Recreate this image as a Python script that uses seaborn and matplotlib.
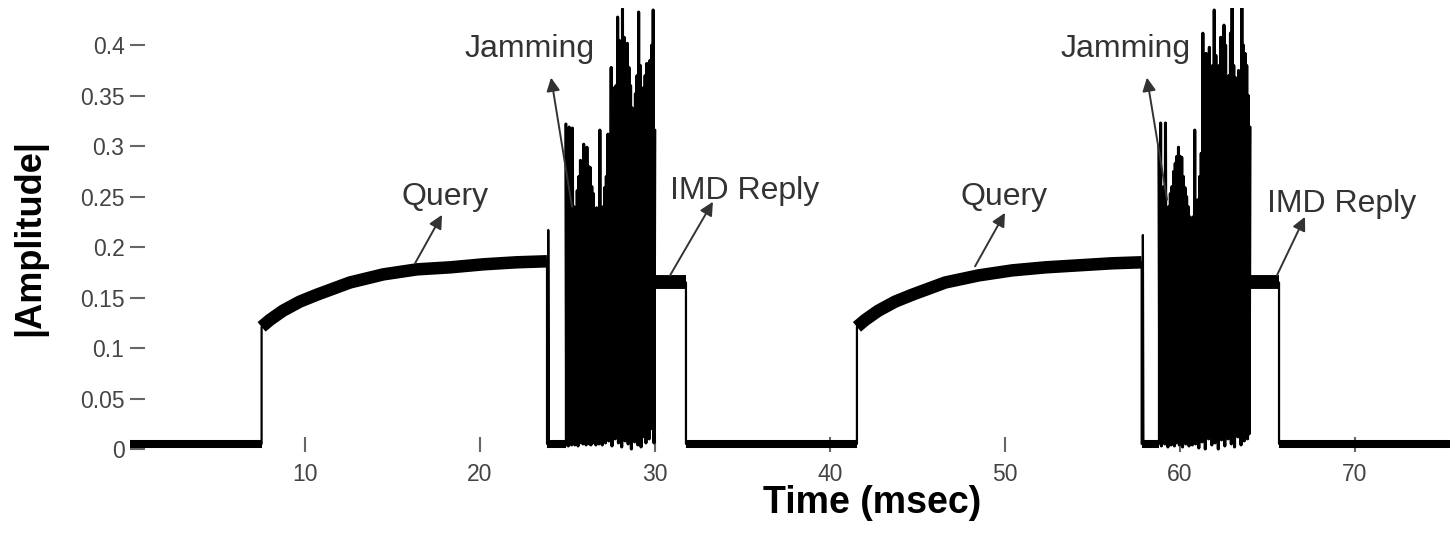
import numpy as np
import pandas as pd
import matplotlib
matplotlib.use('Agg')
import matplotlib.pyplot as plt
import seaborn as sns

sns.set_theme(style='white')
plt.rcParams['font.family'] = ['Liberation Sans', 'DejaVu Sans']

# ====================== 数据 ======================
t_end = 75.43
noise_floor = 0.005          # 底噪
reply_level = 0.165          # IMD Reply 电平

# 底噪区段 (起, 止) ms
base_segs = [(0.0, 7.52), (23.83, 24.91), (31.77, 41.54), (57.81, 58.80), (65.66, 75.43)]

# Query 包络
query1_t = [7.52, 8.00, 8.74, 9.70, 10.70, 12.57, 14.47, 16.40, 18.30, 20.20, 22.10, 23.83]
query1_amp = [0.121, 0.128, 0.137, 0.146, 0.153, 0.165, 0.173, 0.178, 0.180, 0.183, 0.185, 0.186]
query2_t = [41.54, 42.02, 42.76, 43.72, 44.72, 46.59, 48.49, 50.42, 52.32, 54.22, 56.12, 57.81]
query2_amp = [0.121, 0.128, 0.137, 0.146, 0.153, 0.165, 0.172, 0.177, 0.180, 0.182, 0.184, 0.185]

# Query 结束后的尖峰
spike_t = [23.90, 57.88]
spike_amp = [0.217, 0.212]

# IMD Reply 区段
reply_segs = [(29.99, 31.77), (64.00, 65.66)]

# Jamming 采样（峰 / 谷交替）
jam1_start, jam1_end = 24.91, 29.99
jam1_peaks = [0.322, 0.22, 0.319, 0.23, 0.318, 0.24, 0.229, 0.256, 0.27, 0.286,
              0.28, 0.302, 0.29, 0.299, 0.28, 0.279, 0.26, 0.253, 0.235, 0.239,
              0.22, 0.316, 0.226, 0.24, 0.259, 0.27, 0.312, 0.30, 0.378, 0.33,
              0.358, 0.36, 0.428, 0.405, 0.38, 0.436, 0.408, 0.39, 0.402, 0.378,
              0.36, 0.338, 0.33, 0.352, 0.37, 0.433, 0.38, 0.35, 0.358, 0.37,
              0.382, 0.36, 0.385, 0.40, 0.435, 0.316]
jam1_troughs = [0.004, 0.003, 0.006, 0.004, 0.007, 0.004, 0.008, 0.003, 0.006, 0.009,
                0.005, 0.007, 0.004, 0.008, 0.005, 0.004, 0.009, 0.006, 0.004, 0.008,
                0.005, 0.012, 0.004, 0.02, 0.006, 0.03, 0.008, 0.025, 0.003, 0.018,
                0.01, 0.035, 0.006, 0.015, 0.002, 0.03, 0.008, 0.04, 0.005, 0.02,
                0.0, 0.028, 0.007, 0.035, 0.004, 0.022, 0.002, 0.012, 0.03, 0.006,
                0.04, 0.01, 0.02, 0.035, 0.006]

jam2_start, jam2_end = 58.80, 64.00
jam2_peaks = [0.30, 0.323, 0.23, 0.26, 0.323, 0.22, 0.24, 0.253, 0.26, 0.275,
              0.283, 0.29, 0.299, 0.29, 0.289, 0.27, 0.259, 0.25, 0.24, 0.23,
              0.22, 0.23, 0.316, 0.24, 0.247, 0.27, 0.293, 0.412, 0.34, 0.392,
              0.36, 0.398, 0.37, 0.38, 0.435, 0.39, 0.362, 0.38, 0.408, 0.39,
              0.42, 0.40, 0.352, 0.37, 0.412, 0.437, 0.38, 0.368, 0.36, 0.375,
              0.37, 0.437, 0.40, 0.392, 0.38, 0.35, 0.319]
jam2_troughs = [0.03, 0.003, 0.015, 0.005, 0.008, 0.002, 0.01, 0.004, 0.008, 0.003,
                0.006, 0.012, 0.004, 0.009, 0.002, 0.007, 0.005, 0.011, 0.003, 0.008,
                0.004, 0.015, 0.005, 0.02, 0.001, 0.03, 0.007, 0.018, 0.0, 0.025,
                0.01, 0.022, 0.004, 0.035, 0.006, 0.015, 0.0, 0.03, 0.009, 0.02,
                0.003, 0.04, 0.01, 0.018, 0.005, 0.03, 0.002, 0.022, 0.012, 0.025,
                0.004, 0.02, 0.008, 0.03, 0.01, 0.015]

# 刻度
xticks = [10, 20, 30, 40, 50, 60, 70]
yticks = [0, 0.05, 0.1, 0.15, 0.2, 0.25, 0.3, 0.35, 0.4]
ytick_labels = ['0', '0.05', '0.1', '0.15', '0.2', '0.25', '0.3', '0.35', '0.4']

# 标注: (文字, 文字位置, 箭头尾, 箭头头)
notes = [
    ('Query', (18.0, 0.250), (16.29, 0.184), (17.83, 0.232)),
    ('Jamming', (22.86, 0.396), (25.26, 0.240), (24.06, 0.368)),
    ('IMD Reply', (35.14, 0.256), (30.86, 0.172), (33.31, 0.245)),
    ('Query', (49.94, 0.250), (48.29, 0.181), (50.00, 0.234)),
    ('Jamming', (56.91, 0.396), (59.26, 0.247), (58.11, 0.368)),
    ('IMD Reply', (69.26, 0.243), (65.54, 0.172), (67.14, 0.230)),
]


def jam_samples(start, end, peaks, troughs):
    vals = np.empty(len(peaks) + len(troughs))
    vals[0::2] = peaks
    vals[1::2] = troughs
    ts = np.linspace(start, end, len(vals))
    return list(ts), list(vals)


jam1 = jam_samples(jam1_start, jam1_end, jam1_peaks, jam1_troughs)
jam2 = jam_samples(jam2_start, jam2_end, jam2_peaks, jam2_troughs)


def build_signal():
    """拼出完整的细线信号"""
    pts = [(0.0, noise_floor)]
    periods = [
        (query1_t, query1_amp, spike_t[0], spike_amp[0], jam1, reply_segs[0]),
        (query2_t, query2_amp, spike_t[1], spike_amp[1], jam2, reply_segs[1]),
    ]
    for q_t, q_a, s_t, s_a, (j_t, j_v), (r0, r1) in periods:
        pts.append((q_t[0], noise_floor))
        pts.append((q_t[0], q_a[0] - 0.008))
        pts += list(zip(q_t, q_a))
        pts.append((q_t[-1], noise_floor))
        pts.append((s_t, noise_floor))
        pts.append((s_t, s_a))
        pts.append((s_t + 0.03, noise_floor))
        pts.append((j_t[0], noise_floor))
        pts += list(zip(j_t, j_v))
        pts.append((r0, reply_level))
        pts.append((r1, reply_level))
        pts.append((r1, noise_floor))
    pts.append((t_end, noise_floor))
    return pd.DataFrame(pts, columns=['t', 'amp'])


signal = build_signal()
jam_df = pd.DataFrame({
    'burst': [1] * len(jam1[0]) + [2] * len(jam2[0]),
    't': jam1[0] + jam2[0],
    'amp': jam1[1] + jam2[1],
})

band_rows = []
for i, (a, b) in enumerate(base_segs):
    band_rows += [('base', i, a, noise_floor), ('base', i, b, noise_floor)]
for i, (qt, qa) in enumerate([(query1_t, query1_amp), (query2_t, query2_amp)]):
    band_rows += [('query', 10 + i, t, v) for t, v in zip(qt, qa)]
for i, (a, b) in enumerate(reply_segs):
    band_rows += [('reply', 20 + i, a, reply_level), ('reply', 20 + i, b, reply_level)]
bands = pd.DataFrame(band_rows, columns=['kind', 'seg', 't', 'amp'])

# ====================== 绘图 ======================
fig = plt.figure(figsize=(14.5, 5.36), dpi=100)
ax = fig.add_axes([130 / 1450, 1 - 452 / 536, 1 - 130 / 1450, 444 / 536])

sns.lineplot(data=signal, x='t', y='amp', sort=False, estimator=None,
             color='black', linewidth=1.6, ax=ax)
# jamming 部分再叠一层稍粗的线，让密集振荡呈实心
sns.lineplot(data=jam_df, x='t', y='amp', units='burst', sort=False, estimator=None,
             color='black', linewidth=2.2, ax=ax)
band_lw = {'base': 5.8, 'query': 9.0, 'reply': 10.0}
for kind, lw in band_lw.items():
    sns.lineplot(data=bands[bands['kind'] == kind], x='t', y='amp', units='seg',
                 estimator=None, sort=False, color='black', linewidth=lw,
                 solid_capstyle='butt', ax=ax)

for text, txt_xy, tail, head in notes:
    ax.text(*txt_xy, text, fontsize=23, color='#333333', ha='center', va='center')
    ax.annotate('', xy=head, xytext=tail,
                arrowprops=dict(arrowstyle='-|>', color='#333333', lw=1.4,
                                mutation_scale=20, shrinkA=0, shrinkB=0))

ax.set_xlim(0, t_end)
ax.set_ylim(-0.003, 0.437)
ax.set_xticks(xticks)
ax.set_xticklabels([str(v) for v in xticks])
ax.set_yticks(yticks)
ax.set_yticklabels(ytick_labels)
ax.tick_params(axis='both', direction='in', length=11, width=1.5, color='#666666',
               labelsize=16.5, labelcolor='#444444', bottom=True, left=True)
ax.tick_params(axis='x', pad=8)
ax.tick_params(axis='y', pad=4)
sns.despine(ax=ax, left=True, bottom=True)

ax.set_xlabel('Time (msec)', fontsize=27, fontweight='bold', color='black')
ax.xaxis.set_label_coords(0.562, -0.115)
ax.xaxis.label.set_va('center')
ax.set_ylabel('|Amplitude|', fontsize=26, fontweight='bold', color='black')
ax.yaxis.set_label_coords(-0.0758, 0.484)
ax.yaxis.label.set_va('center')

fig.savefig('out.png', dpi=100)
plt.close(fig)
